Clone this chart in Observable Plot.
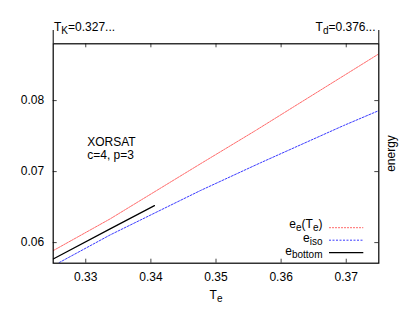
<!DOCTYPE html>
<html>
<head>
<meta charset="utf-8">
<script src="https://cdn.jsdelivr.net/npm/d3@7"></script>
<script src="https://cdn.jsdelivr.net/npm/@observablehq/plot@0.6"></script>
<style>
  html, body { margin: 0; padding: 0; background: #fff; }
</style>
</head>
<body>
<div id="chart"></div>
<script>
// ---- data ----
const tRed = [0.325, 0.33374, 0.34758, 0.35605, 0.36758, 0.375];
const eRed = [0.05887, 0.06334, 0.07108, 0.07577, 0.08235, 0.08658];
const tIso = [0.325, 0.33374, 0.34758, 0.35681, 0.36958, 0.375];
const eIso = [0.05673, 0.06108, 0.06732, 0.07123, 0.07648, 0.07859];
const tBot = [0.325, 0.33374, 0.34055];
const eBot = [0.05770, 0.06193, 0.06521];
const xTicks = [0.33, 0.34, 0.35, 0.36, 0.37];
const yTicks = [0.06, 0.07, 0.08];
const xDomain = [0.325, 0.375];
const yDomain = [0.0571, 0.088];
const legendLabels = ["e_{e}(T_{e})", "e_{iso}", "e_{bottom}"];
const topLabels = ["T_{K}=0.327...", "T_{d}=0.376..."];

const series = [
  {t: tRed, e: eRed, stroke: "#ff6a6a", dash: "2,1", width: 1},
  {t: tIso, e: eIso, stroke: "#3a3aff", dash: "2,1.5", width: 1},
  {t: tBot, e: eBot, stroke: "#000000", dash: null, width: 1.2}
];
const toRows = s => s.t.map((t, i) => ({t, e: s.e[i]}));

const W = 411, H = 316;
const mt = 43.3, mb = 53.3, ml = 52.7, mr = 32.7;
const innerH = H - mt - mb, innerW = W - ml - mr;
const font = "Liberation Sans, Arial, Helvetica, sans-serif";

function legendSamples(index, scales, values, dims) {
  const g = d3.create("svg:g");
  const right = dims.width - dims.marginRight;
  const bottom = dims.height - dims.marginBottom;
  series.forEach((s, i) => {
    g.append("line")
      .attr("x1", right - 49.3).attr("x2", right - 15)
      .attr("y1", bottom - 35 + 12.5 * i).attr("y2", bottom - 35 + 12.5 * i)
      .attr("stroke", s.stroke)
      .attr("stroke-width", s.width)
      .attr("stroke-dasharray", s.dash);
  });
  return g.node();
}

const marks = [
  // inward tick marks on all four sides
  Plot.tickX(xTicks, {x: d => d, insetTop: innerH - 4, stroke: "#444"}),
  Plot.tickX(xTicks, {x: d => d, insetBottom: innerH - 4, stroke: "#444"}),
  Plot.tickY(yTicks, {y: d => d, insetRight: innerW - 4, stroke: "#444"}),
  Plot.tickY(yTicks, {y: d => d, insetLeft: innerW - 4, stroke: "#444"}),
  // small vertical bars above the frame at the edges
  Plot.tickX(xDomain, {x: d => d, insetTop: -13.3, insetBottom: innerH, stroke: "#000"}),
  // axis labels
  Plot.axisX(xTicks, {tickSize: 0, tickPadding: 9, label: null, tickFormat: d3.format(".2f")}),
  Plot.axisY(yTicks, {tickSize: 0, tickPadding: 9, label: null, tickFormat: d3.format(".2f")}),
  // lines
  ...series.map(s => Plot.line(toRows(s), {
    x: "t", y: "e", stroke: s.stroke, strokeWidth: s.width,
    strokeDasharray: s.dash, clip: true
  })),
  Plot.frame({stroke: "#000", strokeWidth: 1.2}),
  // annotations
  Plot.text([topLabels[0]], {frameAnchor: "top-left", dx: 0.8, dy: -13.3, lineAnchor: "bottom", textAnchor: "start", fill: "#000"}),
  Plot.text([topLabels[1]], {frameAnchor: "top-right", dx: -3.3, dy: -13.3, lineAnchor: "bottom", textAnchor: "end", fill: "#000"}),
  Plot.text(["XORSAT"], {frameAnchor: "top-left", dx: 34, dy: 101.7, lineAnchor: "bottom", textAnchor: "start", fill: "#000"}),
  Plot.text(["c=4, p=3"], {frameAnchor: "top-left", dx: 34, dy: 115.2, lineAnchor: "bottom", textAnchor: "start", fill: "#000"}),
  Plot.text(["T_{e}"], {frameAnchor: "bottom", dy: 35.3, lineAnchor: "bottom", textAnchor: "middle", fill: "#000"}),
  Plot.text(["energy"], {frameAnchor: "right", dx: 15.7, rotate: -90, lineAnchor: "bottom", textAnchor: "middle", fill: "#000"}),
  ...legendLabels.map((lab, i) => Plot.text([lab], {
    frameAnchor: "bottom-right", dx: -56.3, dy: [-34.8, -21, -8.2][i],
    lineAnchor: "bottom", textAnchor: "end", fill: "#000"
  })),
  legendSamples
];

const chart = Plot.plot({
  width: W, height: H,
  marginTop: mt, marginBottom: mb, marginLeft: ml, marginRight: mr,
  x: {domain: xDomain, axis: null},
  y: {domain: yDomain, axis: null},
  style: {fontFamily: font, fontSize: "12px", background: "#fff", color: "#000", overflow: "visible"},
  marks
});

// turn "_{...}" markup into subscript tspans
function subscripts(root) {
  const ns = "http://www.w3.org/2000/svg";
  const walker = document.createTreeWalker(root, NodeFilter.SHOW_TEXT);
  const nodes = [];
  while (walker.nextNode()) if (/_\{/.test(walker.currentNode.nodeValue)) nodes.push(walker.currentNode);
  for (const n of nodes) {
    const parent = n.parentNode;
    const parts = n.nodeValue.split(/(_\{[^}]*\})/).filter(p => p);
    let lowered = false;
    for (const p of parts) {
      const ts = document.createElementNS(ns, "tspan");
      if (p.startsWith("_{")) {
        ts.textContent = p.slice(2, -1);
        ts.setAttribute("font-size", "10px");
        if (!lowered) { ts.setAttribute("dy", "3"); lowered = true; }
      } else {
        ts.textContent = p;
        if (lowered) { ts.setAttribute("dy", "-3"); lowered = false; }
      }
      parent.insertBefore(ts, n);
    }
    parent.removeChild(n);
  }
}
subscripts(chart);
document.getElementById("chart").appendChild(chart);
</script>
</body>
</html>
